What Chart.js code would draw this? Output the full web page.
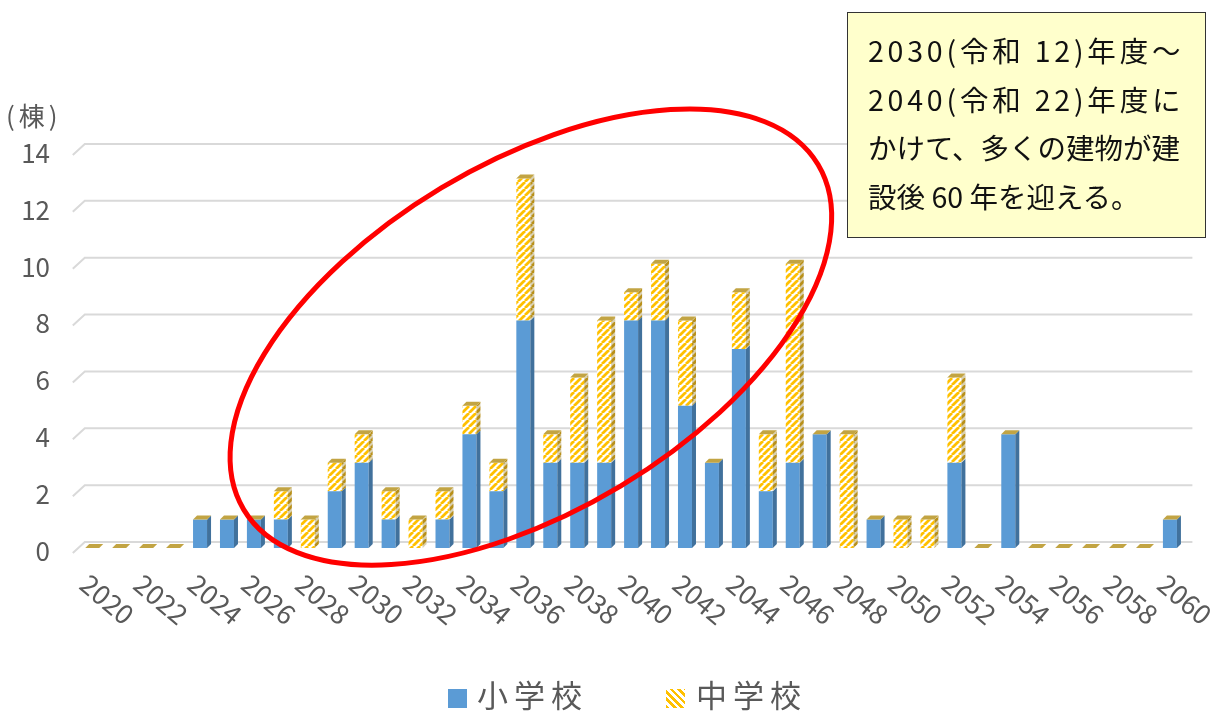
<!DOCTYPE html>
<html><head><meta charset="utf-8">
<script src="https://cdn.jsdelivr.net/npm/chart.js@4.4.1/dist/chart.umd.min.js"></script>
<style>
html,body{margin:0;padding:0;background:#fff;}
#wrap{position:relative;width:1220px;height:713px;overflow:hidden;font-family:"Noto Sans CJK JP",sans-serif;}
#c{position:absolute;left:0;top:0;}
.note{position:absolute;left:847px;top:12px;width:359px;height:226px;background:#FFFFCC;border:1.5px solid #333;box-sizing:border-box;}
.noteText{position:absolute;left:868px;top:26px;width:340px;font-size:28.5px;line-height:48.5px;color:#111;white-space:nowrap;}
.noteText div.wide{letter-spacing:3.8px;}
.unit{position:absolute;left:6px;top:102px;font-size:26px;line-height:26px;color:#595959;letter-spacing:4px;}
.lg{position:absolute;font-size:31px;line-height:31px;color:#595959;letter-spacing:6px;}
.sw{position:absolute;width:19px;height:19px;}
</style></head>
<body><div id="wrap">
<canvas id="c" width="1220" height="713"></canvas>
<div class="unit">(棟)</div>
<div class="note"></div>
<div class="noteText">
<div class="wide">2030(令和 12)年度～</div>
<div class="wide">2040(令和 22)年度に</div>
<div>かけて、多くの建物が建</div>
<div>設後 60 年を迎える。</div>
</div>
<div class="sw" style="left:448px;top:689px;background:#5B9BD5;"></div>
<div class="lg" style="left:477px;top:678px;">小学校</div>
<div class="sw" style="left:666px;top:689px;background:repeating-linear-gradient(45deg,#FFC000 0 2.6px,#fff 2.6px 5.2px);"></div>
<div class="lg" style="left:696px;top:678px;">中学校</div>
</div>
<script>
const years = ['2020','2021','2022','2023','2024','2025','2026','2027','2028','2029','2030','2031','2032','2033','2034','2035','2036','2037','2038','2039','2040','2041','2042','2043','2044','2045','2046','2047','2048','2049','2050','2051','2052','2053','2054','2055','2056','2057','2058','2059','2060'];
const xTickLabels = ['2020','2022','2024','2026','2028','2030','2032','2034','2036','2038','2040','2042','2044','2046','2048','2050','2052','2054','2056','2058','2060'];
const yTicks = [0,2,4,6,8,10,12,14];
const seriesNames = ['小学校','中学校'];
const elementary = [0,0,0,0,1,1,1,1,0,2,3,1,0,1,4,2,8,3,3,3,8,8,5,3,7,2,3,4,0,1,0,0,3,0,4,0,0,0,0,0,1];
const juniorHigh = [0,0,0,0,0,0,0,1,1,1,1,1,1,1,1,1,5,1,3,5,1,2,3,0,2,2,7,0,4,0,1,1,3,0,0,0,0,0,0,0,0];

const canvas = document.getElementById('c');
const ctx = canvas.getContext('2d');
function makeHatch(fg, bg, size, lw){
  const c = document.createElement('canvas'); c.width = c.height = size;
  const g = c.getContext('2d');
  g.fillStyle = bg; g.fillRect(0,0,size,size);
  g.strokeStyle = fg; g.lineWidth = lw; g.beginPath();
  for (const o of [-size,0,size]) { g.moveTo(o, size); g.lineTo(o+size, 0); }
  g.stroke();
  return ctx.createPattern(c,'repeat');
}
const yellowHatch = makeHatch('#FFC000','#FFFFFF',7,2.8);
const yellowSide = makeHatch('#B8901A','#D8CFB0',7,2.8);
const blueSide = '#41719C';
const topFace = '#C2A443';
const depth = 4;

function poly(c, pts){ c.beginPath(); c.moveTo(pts[0][0],pts[0][1]); for(let i=1;i<pts.length;i++) c.lineTo(pts[i][0],pts[i][1]); c.closePath(); c.fill(); }

const threeD = {
  id:'threeD',
  beforeDatasetsDraw(chart){
    const c = chart.ctx, y = chart.scales.y, a = chart.chartArea;
    c.save(); c.strokeStyle = '#D9D9D9'; c.lineWidth = 2;
    for (const v of yTicks){
      const py = y.getPixelForValue(v);
      c.beginPath();
      c.moveTo(a.left-6, py+5);
      c.lineTo(a.left+6, py-6);
      c.lineTo(a.right+9, py-6);
      c.stroke();
    }
    c.restore();
  },
  afterDatasetsDraw(chart){
    const c = chart.ctx;
    const metas = [0,1].map(i => chart.getDatasetMeta(i));
    const sides = [blueSide, yellowSide];
    c.save();
    metas.forEach((m,di) => m.data.forEach(el => {
      const p = el.getProps(['x','y','base','width'], true);
      if (Math.abs(p.base - p.y) < 0.5) return;
      const xr = p.x + p.width/2;
      c.fillStyle = sides[di];
      poly(c, [[xr,p.y],[xr+depth,p.y-depth],[xr+depth,p.base-depth],[xr,p.base]]);
    }));
    metas[1].data.forEach(el => {
      const p = el.getProps(['x','y','width'], true);
      const xl = p.x - p.width/2, xr = p.x + p.width/2;
      c.fillStyle = topFace;
      poly(c, [[xl,p.y],[xl+depth,p.y-depth],[xr+depth,p.y-depth],[xr,p.y]]);
    });
    // red ellipse annotation
    const x = chart.scales.x, y = chart.scales.y;
    c.strokeStyle = '#FF0000'; c.lineWidth = 5;
    c.beginPath();
    c.ellipse(x.getPixelForValue(16.28), y.getPixelForValue(7.42), 335, 174, -31*Math.PI/180, 0, Math.PI*2);
    c.stroke();
    c.restore();
  },
  afterDraw(chart){
    const c = chart.ctx, x = chart.scales.x;
    c.save();
    c.font = '27px "Noto Sans CJK JP"'; c.fillStyle = '#595959';
    c.textAlign = 'left'; c.textBaseline = 'middle';
    xTickLabels.forEach(lbl => {
      const px = x.getPixelForValue(years.indexOf(lbl));
      c.save(); c.translate(px-8, 580); c.rotate(40*Math.PI/180); c.fillText(lbl,0,0); c.restore();
    });
    c.restore();
  }
};

new Chart(ctx, {
  type:'bar',
  data:{
    labels: years,
    datasets:[
      {label: seriesNames[0], data: elementary, backgroundColor:'#5B9BD5', borderWidth:0, barPercentage:0.52, categoryPercentage:1},
      {label: seriesNames[1], data: juniorHigh, backgroundColor: yellowHatch, borderWidth:0, barPercentage:0.52, categoryPercentage:1}
    ]
  },
  options:{
    responsive:false, animation:false, devicePixelRatio:1,
    layout:{padding:{left:0, top:150, right:36.6, bottom:165}},
    plugins:{legend:{display:false}, tooltip:{enabled:false}},
    scales:{
      x:{stacked:true, display:false},
      y:{stacked:true, min:0, max:14,
         afterFit(s){ s.width = 78.8; },
         afterBuildTicks(s){ s.ticks = yTicks.map(v => ({value:v})); },
         grid:{display:false, drawTicks:false}, border:{display:false},
         ticks:{padding:28.8, labelOffset:3, color:'#595959', font:{family:'"Noto Sans CJK JP"', size:26}}}
    }
  },
  plugins:[threeD]
});
</script>
</body></html>
